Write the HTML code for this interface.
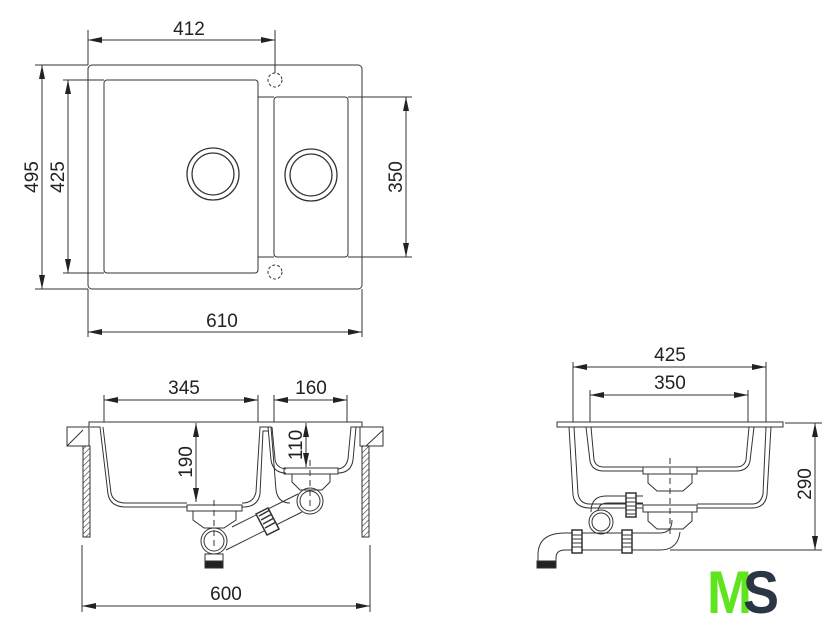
<!DOCTYPE html>
<html><head><meta charset="utf-8"><style>
html,body{margin:0;padding:0;background:#fff}
svg{display:block}
text{font-family:"Liberation Sans",sans-serif;font-size:19px;fill:#222}
</style></head><body>
<svg width="840" height="631" viewBox="0 0 840 631" xmlns="http://www.w3.org/2000/svg">
<defs>
<marker id="a" viewBox="0 0 14 6" refX="14" refY="3" markerWidth="14" markerHeight="6" orient="auto-start-reverse" markerUnits="userSpaceOnUse"><path d="M0,0 L14,3 L0,6 z" fill="#222"/></marker>
<pattern id="h" width="4" height="4" patternUnits="userSpaceOnUse" patternTransform="rotate(45)"><line x1="0" y1="0" x2="0" y2="4" stroke="#333" stroke-width="1.2"/></pattern>
</defs>
<g fill="none" stroke="#333" stroke-width="1">
<rect x="88" y="65" width="274" height="224" rx="4"/>
<rect x="104" y="80" width="154" height="193" rx="3"/>
<rect x="274" y="97" width="74" height="160" rx="3"/>
<circle cx="213" cy="174" r="26" stroke-width="1.3"/><circle cx="213" cy="174" r="21" stroke-width="1.3"/>
<circle cx="311" cy="175" r="26" stroke-width="1.3"/><circle cx="311" cy="175" r="21" stroke-width="1.3"/>
<circle cx="275" cy="80" r="7" stroke-dasharray="3,2"/><circle cx="275" cy="272" r="7" stroke-dasharray="3,2"/>
<line x1="258" y1="97" x2="274" y2="97"/><line x1="258" y1="257" x2="274" y2="257"/>
<line x1="88" y1="30" x2="88" y2="65"/><line x1="275" y1="30" x2="275" y2="73"/>
<line x1="88" y1="40" x2="275" y2="40" marker-start="url(#a)" marker-end="url(#a)"/>
<line x1="88" y1="289" x2="88" y2="337"/><line x1="362" y1="289" x2="362" y2="337"/>
<line x1="88" y1="332" x2="362" y2="332" marker-start="url(#a)" marker-end="url(#a)"/>
<line x1="35" y1="65" x2="88" y2="65"/><line x1="35" y1="289" x2="88" y2="289"/>
<line x1="42" y1="65" x2="42" y2="289" marker-start="url(#a)" marker-end="url(#a)"/>
<line x1="63" y1="80" x2="104" y2="80"/><line x1="63" y1="273" x2="104" y2="273"/>
<line x1="68" y1="80" x2="68" y2="273" marker-start="url(#a)" marker-end="url(#a)"/>
<line x1="348" y1="97" x2="412" y2="97"/><line x1="348" y1="257" x2="412" y2="257"/>
<line x1="406" y1="97" x2="406" y2="257" marker-start="url(#a)" marker-end="url(#a)"/>

<rect x="67" y="427" width="22" height="19"/><line x1="67" y1="446" x2="83" y2="430"/>
<rect x="83" y="446" width="7" height="91" fill="url(#h)"/>
<rect x="360" y="427" width="23" height="19"/><line x1="366" y1="446" x2="383" y2="430"/>
<rect x="362" y="446" width="7" height="91" fill="url(#h)"/>
<path d="M89,427 L89,422 L362,422 L362,427"/>
<path d="M90,427 L100,427 L108,494 Q110,506 124,507 L187,507"/>
<path d="M103,427 L111,493 Q113,502 124,503 L187,503"/>
<path d="M242,503 L244,503 Q254,502 256,492 L260,427 L271,427 L276,490 Q278,503 290,503"/>
<path d="M242,507 L245,507 Q258,506 260,494 L263,431 L268,431"/>
<path d="M272,427 L275,459 Q276,468 286,469"/><path d="M268,427 L271,460 Q273,473 286,473"/>
<path d="M338,469 Q346,468 348,459 L351,427 L362,427"/><path d="M338,473 Q351,473 353,460 L356,427"/>
<rect x="187" y="505" width="55" height="6"/>
<path d="M193,511 L193,520 L204,528 L224,528 L236,520 L236,511"/>
<circle cx="214" cy="541" r="13"/><circle cx="214" cy="541" r="10"/>
<rect x="205" y="554" width="18" height="8"/>
<rect x="205" y="561" width="18" height="7" fill="#222"/>
<line x1="214" y1="500" x2="214" y2="550" stroke-dasharray="6,4"/>
<rect x="284" y="468" width="54" height="6"/>
<path d="M292,474 L292,482 L300,490 L322,490 L330,482 L330,474"/>
<circle cx="310" cy="501" r="13"/><circle cx="310" cy="501" r="10"/>
<line x1="310" y1="460" x2="310" y2="510" stroke-dasharray="6,4"/>
<line x1="232" y1="527" x2="298" y2="494"/><line x1="226" y1="550" x2="302" y2="512"/>
<path d="M256,514 L268,508 L279,529 L267,535 Z" fill="#fff" stroke-width="1.5"/>
<path d="M259,516 L270,510 M261,520 L272,514 M263,524 L274,518 M265,528 L276,522" stroke-width="1.5"/>
<line x1="104" y1="395" x2="104" y2="422"/><line x1="258" y1="395" x2="258" y2="422"/>
<line x1="104" y1="400" x2="258" y2="400" marker-start="url(#a)" marker-end="url(#a)"/>
<line x1="274" y1="395" x2="274" y2="422"/><line x1="347" y1="395" x2="347" y2="422"/>
<line x1="274" y1="400" x2="347" y2="400" marker-start="url(#a)" marker-end="url(#a)"/>
<line x1="196" y1="423" x2="196" y2="502" marker-start="url(#a)" marker-end="url(#a)"/>
<line x1="306" y1="423" x2="306" y2="467" marker-start="url(#a)" marker-end="url(#a)"/>
<line x1="82" y1="545" x2="82" y2="612"/><line x1="370" y1="545" x2="370" y2="612"/>
<line x1="82" y1="606" x2="370" y2="606" marker-start="url(#a)" marker-end="url(#a)"/>

<path d="M557,427 L557,422 L783,422 L783,427 Z"/>
<line x1="573" y1="362" x2="573" y2="422"/><line x1="766" y1="362" x2="766" y2="422"/>
<line x1="573" y1="367" x2="766" y2="367" marker-start="url(#a)" marker-end="url(#a)"/>
<line x1="590" y1="390" x2="590" y2="422"/><line x1="748" y1="390" x2="748" y2="422"/>
<line x1="590" y1="395" x2="748" y2="395" marker-start="url(#a)" marker-end="url(#a)"/>
<path d="M569,427 L573,495 Q575,508 590,508 L643,508"/><path d="M574,427 L578,494 Q580,504 590,504 L643,504"/>
<path d="M697,508 L752,508 Q765,508 767,495 L771,427"/><path d="M697,504 L752,504 Q761,504 763,494 L766,427"/>
<path d="M586,427 L590,461 Q592,471 604,471 L643,471"/><path d="M591,427 L594,460 Q596,467 604,467 L643,467"/>
<path d="M697,471 L736,471 Q748,471 750,461 L754,427"/><path d="M697,467 L736,467 Q744,467 746,460 L749,427"/>
<rect x="643" y="467" width="54" height="7"/>
<path d="M648,474 L648,483 L657,491 L683,491 L692,483 L692,474"/>
<rect x="643" y="505" width="54" height="7"/>
<path d="M648,512 L648,521 L657,529 L683,529 L692,521 L692,512"/>
<line x1="670" y1="458" x2="670" y2="535" stroke-dasharray="6,4"/>
<path d="M591,512 Q591,496 606,496 L643,496"/><path d="M598,512 Q598,503 608,503 L643,503"/>
<rect x="626" y="493" width="10" height="24" fill="#fff" stroke-width="1.5"/>
<path d="M626,498 h10 M626,502 h10 M626,506 h10 M626,510 h10 M626,514 h10"/>
<circle cx="601" cy="522" r="12" fill="#fff"/><circle cx="601" cy="522" r="9"/>
<path d="M573,533 L660,533 Q672,533 672,520 M573,550 L660,550 Q678,550 680,532"/>
<path d="M573,533 L565,533 Q538,533 538,555 L538,562 M573,550 L565,550 Q556,550 556,558 L556,562"/>
<rect x="537" y="561" width="19" height="7" fill="#222"/>
<rect x="572" y="530" width="10" height="23" fill="#fff" stroke-width="1.5"/>
<path d="M572,535 h10 M572,539 h10 M572,543 h10 M572,547 h10"/>
<rect x="622" y="530" width="10" height="23" fill="#fff" stroke-width="1.5"/>
<path d="M622,535 h10 M622,539 h10 M622,543 h10 M622,547 h10"/>
<line x1="670" y1="550" x2="822" y2="550"/><line x1="785" y1="423" x2="822" y2="423"/>
<line x1="815" y1="423" x2="815" y2="550" marker-start="url(#a)" marker-end="url(#a)"/>
</g>
<text x="189" y="35" text-anchor="middle">412</text>
<text x="222" y="327" text-anchor="middle">610</text>
<text transform="translate(38,177) rotate(-90)" text-anchor="middle">495</text>
<text transform="translate(64,177) rotate(-90)" text-anchor="middle">425</text>
<text transform="translate(402,177) rotate(-90)" text-anchor="middle">350</text>
<text x="184" y="394" text-anchor="middle">345</text>
<text x="311" y="394" text-anchor="middle">160</text>
<text transform="translate(192,462) rotate(-90)" text-anchor="middle">190</text>
<text transform="translate(302,445) rotate(-90)" text-anchor="middle">110</text>
<text x="226" y="600" text-anchor="middle">600</text>
<text x="670" y="361" text-anchor="middle">425</text>
<text x="670" y="389" text-anchor="middle">350</text>
<text transform="translate(811,484) rotate(-90)" text-anchor="middle">290</text>
<g transform="translate(707,613) scale(0.9,1)">
<text x="0" y="0" style="font-size:60px;font-weight:bold;fill:#5ee51e;letter-spacing:-8px">M</text>
<text x="40" y="0" style="font-size:60px;font-weight:bold;fill:#2a3645">S</text>
</g>
</svg>
</body></html>
